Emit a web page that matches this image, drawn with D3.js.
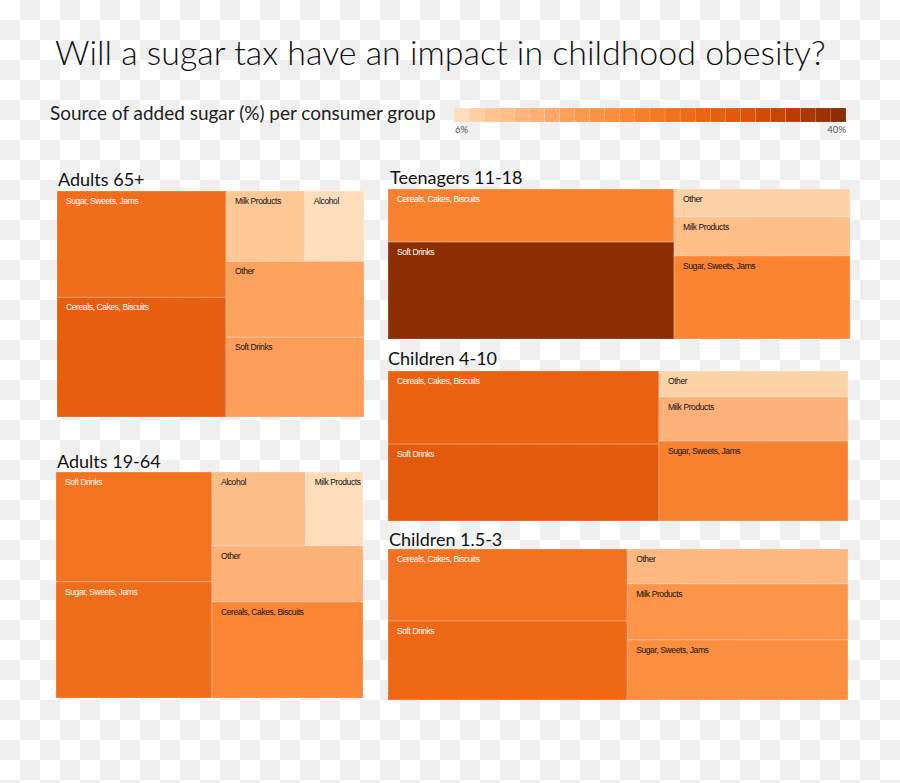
<!DOCTYPE html>
<html>
<head>
<meta charset="utf-8">
<script src="https://cdn.jsdelivr.net/npm/d3@7"></script>
<style>
  html, body { margin: 0; padding: 0; background: #fff; }
  svg { display: block; }
</style>
</head>
<body>
<svg id="chart" width="900" height="783"></svg>
<script>
// ---------------- DATA ----------------
const categories = ["Sugar, Sweets, Jams", "Cereals, Cakes, Biscuits", "Soft Drinks", "Milk Products", "Alcohol", "Other"];

// share of added sugar (%) per category, in the order of `categories`
const adults65Values    = [25.9, 29.2, 15.9, 8.0, 6.0, 15.1];
const teenagersValues   = [21.1, 21.9, 40.0, 9.9, 0, 7.1];
const children410Values = [21.9, 28.7, 30.2, 12.1, 0, 7.1];
const adults1964Values  = [26.1, 20.9, 24.7, 6.1, 10.0, 12.2];
const children153Values = [19.1, 24.8, 27.2, 17.8, 0, 11.1];

// arrangement of the cells (columns -> stacked cells -> side-by-side cells)
const adults65Layout    = [["Sugar, Sweets, Jams", "Cereals, Cakes, Biscuits"], [["Milk Products", "Alcohol"], "Other", "Soft Drinks"]];
const teenagersLayout   = [["Cereals, Cakes, Biscuits", "Soft Drinks"], ["Other", "Milk Products", "Sugar, Sweets, Jams"]];
const children410Layout = [["Cereals, Cakes, Biscuits", "Soft Drinks"], ["Other", "Milk Products", "Sugar, Sweets, Jams"]];
const adults1964Layout  = [["Soft Drinks", "Sugar, Sweets, Jams"], [["Alcohol", "Milk Products"], "Other", "Cereals, Cakes, Biscuits"]];
const children153Layout = [["Cereals, Cakes, Biscuits", "Soft Drinks"], ["Other", "Milk Products", "Sugar, Sweets, Jams"]];

const groupNames = ["Adults 65+", "Teenagers 11-18", "Children 4-10", "Adults 19-64", "Children 1.5-3"];

const legendDomain = [6, 40];
const legendTickLabels = ["6%", "40%"];

const titleText = "Will a sugar tax have an impact in childhood obesity?";
const subtitleText = "Source of added sugar (%) per consumer group";

// ---------------- STYLE / LAYOUT ----------------
const svg = d3.select("#chart");
const FONT = "Lato, 'Noto Sans', 'DejaVu Sans', sans-serif";
const CELL_FONT = "'Liberation Sans Narrow', 'Liberation Sans', Arial, sans-serif";

// checkerboard background
const defs = svg.append("defs");
const pat = defs.append("pattern").attr("id", "checker")
  .attr("width", 40).attr("height", 40).attr("patternUnits", "userSpaceOnUse");
pat.append("rect").attr("width", 40).attr("height", 40).attr("fill", "#ffffff");
pat.append("rect").attr("x", 20).attr("y", 0).attr("width", 20).attr("height", 20).attr("fill", "#efefef");
pat.append("rect").attr("x", 0).attr("y", 20).attr("width", 20).attr("height", 20).attr("fill", "#efefef");
svg.append("rect").attr("width", 900).attr("height", 783).attr("fill", "url(#checker)");

// colour scale
const color = d3.scaleLinear()
  .domain([6, 8, 12, 16, 20, 24, 28, 32, 36, 40])
  .range(["#fddebc", "#fdc896", "#fdb279", "#fc9d58", "#fb8b38", "#f47624", "#ec6413", "#de5108", "#b83d03", "#8c2d04"])
  .clamp(true);

// helper: fit text to a target width
function fitText(sel, targetWidth, startSize) {
  sel.attr("font-size", startSize);
  const w = sel.node().getComputedTextLength();
  sel.attr("font-size", startSize * targetWidth / w);
}

// Title
const title = svg.append("text").attr("x", 55).attr("y", 65)
  .attr("font-family", FONT).attr("font-weight", 300).attr("fill", "#111").text(titleText);
fitText(title, 771, 32);

const sub = svg.append("text").attr("x", 50).attr("y", 120)
  .attr("font-family", FONT).attr("fill", "#222").text(subtitleText);
fitText(sub, 386, 18);

// Legend
const nSteps = 26;
const legX = 454, legY = 108, legW = 392, legH = 14;
const stepVals = d3.range(nSteps).map(i => legendDomain[0] + i * (legendDomain[1] - legendDomain[0]) / (nSteps - 1));
const legScale = d3.scaleBand().domain(d3.range(nSteps)).range([legX, legX + legW]);
svg.append("g").selectAll("rect").data(stepVals).join("rect")
  .attr("x", (d, i) => legScale(i)).attr("y", legY)
  .attr("width", legScale.bandwidth()).attr("height", legH)
  .attr("fill", d => color(d))
  .attr("stroke", "rgba(255,255,255,0.25)").attr("stroke-width", 0.5);
svg.append("text").attr("x", legX + 1).attr("y", legY + 25)
  .attr("font-family", FONT).attr("font-size", 9.5).attr("fill", "#555").text(legendTickLabels[0]);
svg.append("text").attr("x", legX + legW).attr("y", legY + 25).attr("text-anchor", "end")
  .attr("font-family", FONT).attr("font-size", 9.5).attr("fill", "#555").text(legendTickLabels[1]);

// Panels
const panels = [
  { name: groupNames[0], values: adults65Values,    layout: adults65Layout,    box: [57, 191, 307, 226], tx: 58,  ty: 186 },
  { name: groupNames[1], values: teenagersValues,   layout: teenagersLayout,   box: [388, 189, 462, 150], tx: 390, ty: 184 },
  { name: groupNames[2], values: children410Values, layout: children410Layout, box: [388, 371, 460, 150], tx: 388, ty: 365 },
  { name: groupNames[3], values: adults1964Values,  layout: adults1964Layout,  box: [56, 472, 307, 226], tx: 57,  ty: 468 },
  { name: groupNames[4], values: children153Values, layout: children153Layout, box: [388, 549, 460, 151], tx: 389, ty: 546 }
];

function build(node, values) {
  if (typeof node === "string") return { name: node, value: values[categories.indexOf(node)] };
  return { children: node.map(n => build(n, values)) };
}

panels.forEach(p => {
  const [x, y, w, h] = p.box;
  const root = d3.hierarchy({ children: p.layout.map(n => build(n, p.values)) })
    .sum(d => d.value || 0);
  d3.treemap().tile(d3.treemapSliceDice).size([w, h]).round(false)(root);

  const g = svg.append("g").attr("transform", `translate(${x},${y})`);
  const leaves = root.leaves();
  leaves.forEach(l => {
    let a = l; while (a.depth > 1) a = a.parent;
    l.col = root.children.indexOf(a);
  });

  g.selectAll("rect").data(leaves).join("rect")
    .attr("x", d => d.x0).attr("y", d => d.y0)
    .attr("width", d => d.x1 - d.x0).attr("height", d => d.y1 - d.y0)
    .attr("fill", d => color(d.data.value))
    .attr("stroke", "rgba(255,255,255,0.35)").attr("stroke-width", 0.7);

  g.selectAll("text.cell").data(leaves).join("text")
    .attr("class", "cell")
    .attr("x", d => d.x0 + 9).attr("y", d => d.y0 + 13)
    .attr("font-family", CELL_FONT).attr("font-size", 8.5)
    .attr("letter-spacing", -0.4)
    .attr("fill", d => d.col === 0 ? "#ffffff" : "#111111")
    .text(d => d.data.name);

  svg.append("text").attr("x", p.tx).attr("y", p.ty)
    .attr("font-family", FONT).attr("font-size", 18).attr("fill", "#111")
    .text(p.name);
});
</script>
</body>
</html>
